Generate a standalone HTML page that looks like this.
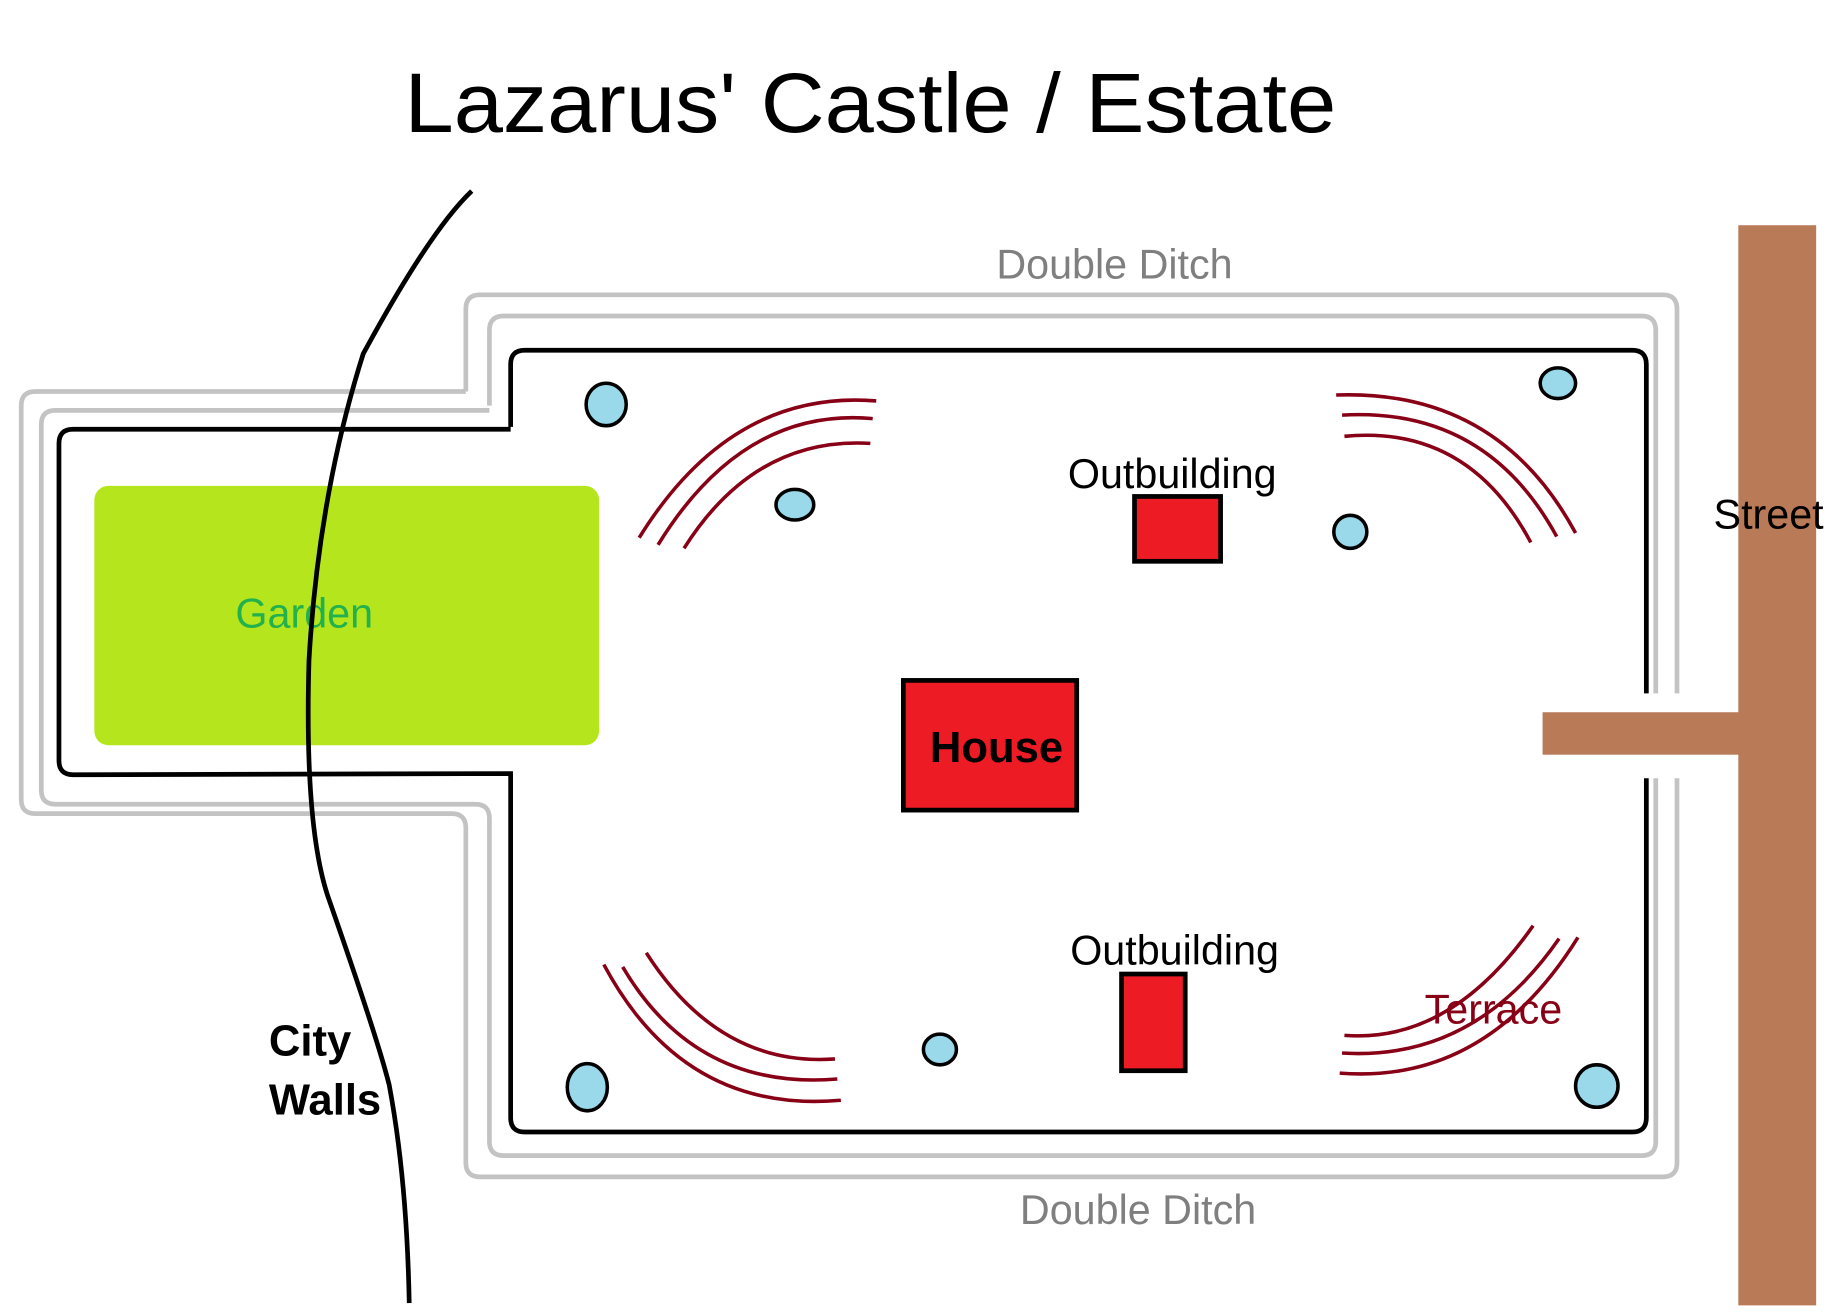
<!DOCTYPE html>
<html><head><meta charset="utf-8"><style>html,body{margin:0;padding:0;background:#fff;width:1848px;height:1316px;overflow:hidden}svg{display:block;overflow:hidden}</style></head>
<body>
<svg width="1848" height="1316" viewBox="0 0 1567 1116" preserveAspectRatio="none" xmlns="http://www.w3.org/2000/svg" font-family="Liberation Sans, sans-serif">
<rect width="1567" height="1116" fill="#fff"/>
<text x="343" y="112" font-size="72" textLength="790" lengthAdjust="spacingAndGlyphs">Lazarus' Castle / Estate</text>
<g fill="none" stroke="#c3c3c3" stroke-width="4">
<path d="M395,332 L395,262 Q395,250 407,250 L1410,250 Q1422,250 1422,262 L1422,588 M1422,660 L1422,986 Q1422,998 1410,998 L407,998 Q395,998 395,986 L395,702 Q395,690 383,690 L30,690 Q18,690 18,678 L18,344 Q18,332 30,332 L395,332"/>
<path d="M415,344 L415,280 Q415,268 427,268 L1392,268 Q1404,268 1404,280 L1404,588 M1404,660 L1404,968 Q1404,980 1392,980 L427,980 Q415,980 415,968 L415,694 Q415,682 403,682 L47,682 Q35,682 35,670 L35,360 Q35,348 47,348 L415,348"/>
</g>
<rect x="80" y="412" width="428" height="220" rx="12" fill="#b5e61d"/>
<text x="258" y="532" font-size="35" fill="#22b14c" text-anchor="middle">Garden</text>
<path d="M433,362 L433,309 Q433,297 445,297 L1384,297 Q1396,297 1396,309 L1396,588 M1396,660 L1396,948 Q1396,960 1384,960 L445,960 Q433,960 433,948 L433,656 L62,657 Q50,657 50,645 L50,376 Q50,364 62,364 L433,364" fill="none" stroke="#000" stroke-width="4"/>
<path d="M400,162 Q365,195 308,300 Q270,420 262,560 Q258,700 278,760 Q320,880 330,920 Q345,1000 347,1105" fill="none" stroke="#000" stroke-width="4"/>
<text x="228" y="895" font-size="37" font-weight="bold">City</text>
<text x="228" y="945" font-size="37" font-weight="bold">Walls</text>
<rect x="1474" y="191" width="66" height="916" fill="#b97a57"/>
<rect x="1308" y="604" width="168" height="36" fill="#b97a57"/>
<text x="1453" y="448" font-size="35">Street</text>
<text x="945" y="236" font-size="35" fill="#7f7f7f" text-anchor="middle">Double Ditch</text>
<text x="965" y="1038" font-size="35" fill="#7f7f7f" text-anchor="middle">Double Ditch</text>
<rect x="766" y="577" width="147" height="110" fill="#ed1c24" stroke="#000" stroke-width="4"/>
<text x="845" y="646" font-size="37" font-weight="bold" text-anchor="middle">House</text>
<rect x="962" y="421" width="73" height="55" fill="#ed1c24" stroke="#000" stroke-width="4"/>
<text x="994" y="414" font-size="35" text-anchor="middle">Outbuilding</text>
<rect x="951" y="826" width="54" height="82" fill="#ed1c24" stroke="#000" stroke-width="4"/>
<text x="996" y="818" font-size="35" text-anchor="middle">Outbuilding</text>
<g fill="none" stroke="#880015" stroke-width="3">
<path d="M542,456 Q620,330 743,340"/><path d="M558,462 Q630,345 740,355"/><path d="M580,465 Q640,370 738,376"/>
<path d="M1133,335 Q1270,330 1336,452"/><path d="M1138,352 Q1260,345 1320,455"/><path d="M1140,370 Q1245,360 1298,460"/>
<path d="M512,818 Q580,945 713,933"/><path d="M528,820 Q590,925 710,915"/><path d="M548,808 Q610,905 708,898"/>
<path d="M1136,910 Q1260,920 1338,795"/><path d="M1138,893 Q1250,900 1322,796"/><path d="M1140,878 Q1230,885 1300,785"/>
</g>
<text x="1208" y="868" font-size="35" fill="#880015">Terrace</text>
<g fill="#99d9ea" stroke="#000" stroke-width="3">
<ellipse cx="514" cy="343" rx="17" ry="18"/>
<ellipse cx="674" cy="428" rx="16" ry="13"/>
<ellipse cx="1321" cy="325" rx="15" ry="13"/>
<ellipse cx="1145" cy="451" rx="14" ry="14"/>
<ellipse cx="797" cy="890" rx="14" ry="13"/>
<ellipse cx="498" cy="922" rx="17" ry="20"/>
<ellipse cx="1354" cy="921" rx="18" ry="18"/>
</g>
</svg>
</body></html>
